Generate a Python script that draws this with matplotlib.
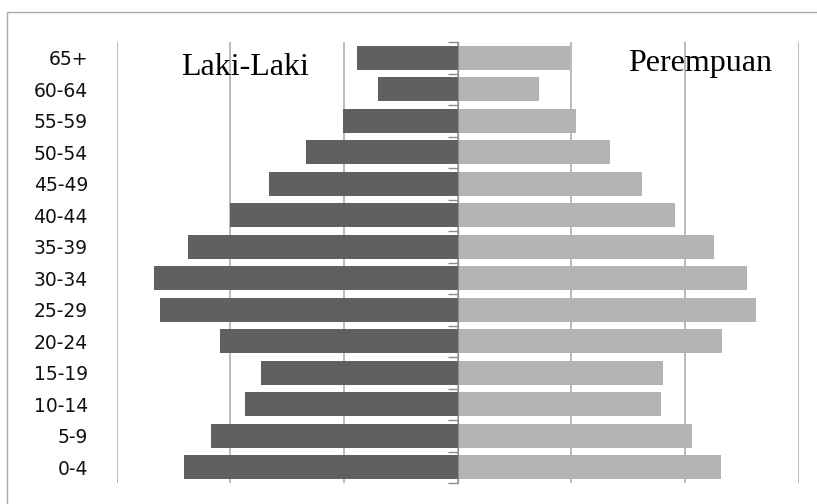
import numpy as np
import matplotlib
matplotlib.use('Agg')
import matplotlib.pyplot as plt
from matplotlib.patches import Rectangle

# Age groups, bottom to top
age_groups = ['0-4', '5-9', '10-14', '15-19', '20-24', '25-29', '30-34',
              '35-39', '40-44', '45-49', '50-54', '55-59', '60-64', '65+']
laki_laki = [2.41, 2.17, 1.87, 1.73, 2.09, 2.62, 2.67,
             2.37, 2.00, 1.66, 1.33, 1.01, 0.70, 0.88]
perempuan = [2.32, 2.06, 1.79, 1.81, 2.33, 2.63, 2.55,
             2.26, 1.91, 1.62, 1.34, 1.04, 0.72, 0.99]
grid_ticks = [-3, -2, -1, 0, 1, 2, 3]

fig = plt.figure(figsize=(8.17, 5.04), dpi=100)
ax = fig.add_axes([116.5 / 817, 21 / 504, 682 / 817, 441 / 504])

y = np.arange(len(age_groups))
ax.barh(y, -np.array(laki_laki), height=0.75, color='#606060', zorder=3)
ax.barh(y, perempuan, height=0.75, color='#b3b3b3', zorder=3)

ax.set_xlim(-3, 3)
ax.set_ylim(-0.5, len(age_groups) - 0.5)

# vertical gridlines, no x labels
ax.set_xticks(grid_ticks)
ax.tick_params(axis='x', length=0, labelbottom=False)
ax.grid(axis='x', color='#a8a8a8', lw=1.1, zorder=0)

for s in ['top', 'right', 'bottom']:
    ax.spines[s].set_visible(False)

# centre axis with ticks at the category boundaries
ax.spines['left'].set_position(('data', 0))
ax.spines['left'].set_color('#8c8c8c')
ax.spines['left'].set_zorder(4)
ax.set_yticks(np.arange(len(age_groups) + 1) - 0.5)
ax.tick_params(axis='y', length=7, width=1, color='#8c8c8c',
               direction='out', labelleft=False)

# age labels on the far left
lab = ax.secondary_yaxis('left')
lab.spines['left'].set_visible(False)
lab.set_yticks(y, age_groups)
lab.tick_params(length=0, pad=20.5, labelsize=13.5, labelcolor='#111111')

ax.text(0.189, 0.925, 'Laki-Laki', transform=ax.transAxes, ha='center',
        va='baseline', fontsize=23, family='Liberation Serif', zorder=5)
ax.text(0.855, 0.935, 'Perempuan', transform=ax.transAxes, ha='center',
        va='baseline', fontsize=23, family='Liberation Serif', zorder=5)

# chart border (cut by the image edge on right and bottom)
fig.patches.append(Rectangle((6.5 / 817, -0.1), 1.2, 1.1 - 12.5 / 504,
                             transform=fig.transFigure, fill=False,
                             ec='#a9a9a9', lw=1.0))

fig.savefig('out.png', dpi=100)
